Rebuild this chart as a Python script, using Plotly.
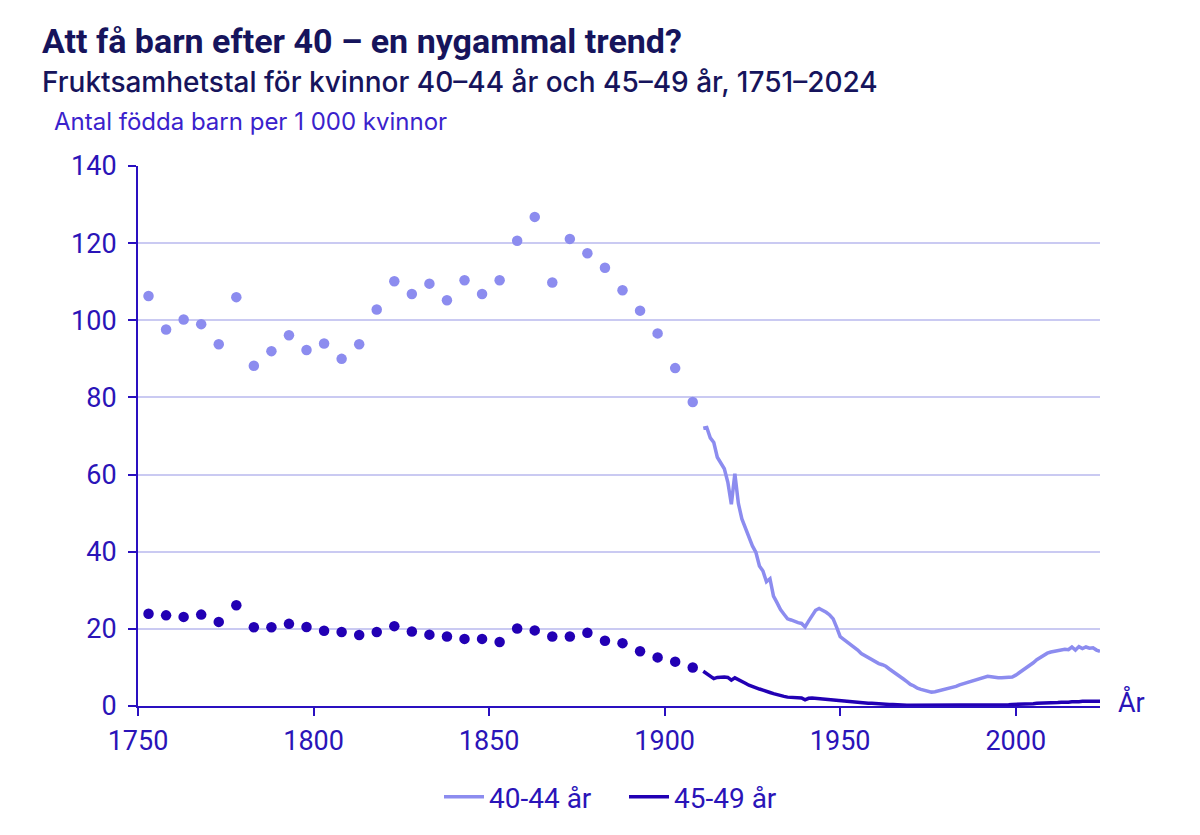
import plotly.graph_objects as go

# 5-year period data (midpoints), 1751-1910
period_years = [1753, 1758, 1763, 1768, 1773, 1778, 1783, 1788, 1793, 1798,
                1803, 1808, 1813, 1818, 1823, 1828, 1833, 1838, 1843, 1848,
                1853, 1858, 1863, 1868, 1873, 1878, 1883, 1888, 1893, 1898,
                1903, 1908]
period_40_44 = [106.3, 97.6, 100.2, 99.0, 93.8, 106.0, 88.2, 92.0, 96.1, 92.3,
                94.0, 90.0, 93.8, 102.8, 110.1, 106.8, 109.5, 105.2, 110.4, 106.8,
                110.4, 120.6, 126.8, 109.8, 121.1, 117.4, 113.6, 107.8, 102.5, 96.6,
                87.6, 78.8]
period_45_49 = [23.9, 23.5, 23.1, 23.7, 21.8, 26.1, 20.4, 20.4, 21.3, 20.5,
                19.5, 19.2, 18.4, 19.2, 20.7, 19.3, 18.5, 18.0, 17.4, 17.4,
                16.6, 20.1, 19.6, 18.0, 18.0, 19.0, 16.9, 16.3, 14.2, 12.6,
                11.5, 10.0]

# Annual data 1911-2024
annual_years = list(range(1911, 2025))
annual_40_44 = [72.0, 72.2, 69.5, 68.3, 64.5, 62.8, 61.5, 58.0, 52.3, 60.2,
                52.5, 48.5, 46.0, 43.5, 41.5, 39.8, 36.3, 35.0, 32.2, 33.0,
                28.5, 26.8, 25.0, 23.8, 22.6, 22.3, 21.9, 21.6, 21.4, 20.5,
                22.0, 23.6, 24.8, 25.3, 24.9, 24.3, 23.6, 22.6, 20.4, 18.0,
                17.3, 16.6, 16.0, 15.1, 14.5, 13.6, 13.1, 12.5, 12.0, 11.4,
                11.0, 10.7, 10.3, 9.6, 9.0, 8.4, 7.6, 7.0, 6.3, 5.6,
                5.2, 4.6, 4.3, 4.0, 3.7, 3.6, 3.7, 3.9, 4.3, 4.4,
                4.7, 4.9, 5.1, 5.5, 5.8, 6.0, 6.3, 6.5, 6.8, 7.2,
                7.4, 7.7, 7.6, 7.4, 7.3, 7.3, 7.4, 7.5, 7.5, 8.0,
                8.6, 9.2, 9.9, 10.6, 11.2, 12.0, 12.6, 13.2, 13.7, 14.0,
                14.2, 14.3, 14.4, 14.7, 14.6, 15.3, 14.5, 15.4, 14.9, 15.3,
                15.0, 15.1, 14.5, 14.2]
annual_45_49 = [9.0, 8.4, 7.8, 7.1, 7.4, 7.5, 7.5, 7.4, 6.7, 7.3,
                6.9, 6.4, 5.9, 5.4, 5.0, 4.6, 4.4, 4.1, 3.9, 3.5,
                3.2, 2.9, 2.7, 2.5, 2.3, 2.2, 2.2, 2.1, 2.1, 1.6,
                2.0, 2.1, 2.0, 2.0, 2.0, 1.9, 1.8, 1.7, 1.6, 1.5,
                1.4, 1.3, 1.2, 1.1, 1.0, 0.9, 0.8, 0.7, 0.7, 0.6,
                0.5, 0.5, 0.5, 0.4, 0.4, 0.3, 0.3, 0.3, 0.2, 0.2,
                0.2, 0.2, 0.2, 0.2, 0.1, 0.1, 0.1, 0.2, 0.2, 0.2,
                0.2, 0.2, 0.2, 0.2, 0.2, 0.2, 0.2, 0.2, 0.2, 0.3,
                0.3, 0.3, 0.3, 0.3, 0.3, 0.3, 0.3, 0.3, 0.4, 0.4,
                0.4, 0.5, 0.5, 0.6, 0.6, 0.7, 0.7, 0.8, 0.8, 0.8,
                0.9, 0.9, 1.0, 0.9, 1.0, 1.1, 1.0, 1.1, 1.2, 1.1,
                1.2, 1.2, 1.1, 1.2]

x_ticks = [1750, 1800, 1850, 1900, 1950, 2000]
y_ticks = [0, 20, 40, 60, 80, 100, 120, 140]

LIGHT = "#8C8CEF"
DARK = "#2200B4"
AXIS = "#2A10C0"
TEXT = "#2A14B8"
GRID = "#CACAF2"
NAVY = "#16145C"

fig = go.Figure()
fig.add_trace(go.Scatter(x=period_years, y=period_40_44, mode="markers",
                         marker=dict(color=LIGHT, size=10.5), showlegend=False,
                         hoverinfo="x+y"))
fig.add_trace(go.Scatter(x=period_years, y=period_45_49, mode="markers",
                         marker=dict(color=DARK, size=10.5), showlegend=False,
                         hoverinfo="x+y"))
fig.add_trace(go.Scatter(x=annual_years, y=annual_40_44, mode="lines",
                         line=dict(color=LIGHT, width=3.5), name="40-44 år"))
fig.add_trace(go.Scatter(x=annual_years, y=annual_45_49, mode="lines",
                         line=dict(color=DARK, width=3.5), name="45-49 år"))

def px(x):
    return (x - 138) / 962

def py(y):
    return (706 - y) / 540

fig.update_layout(
    width=1200, height=835,
    margin=dict(l=130, r=108, t=158, b=137),
    paper_bgcolor="white", plot_bgcolor="white",
    font=dict(family="Roboto", color=TEXT),
    legend=dict(orientation="h", x=px(439), xanchor="left", y=py(797),
                yanchor="middle", font=dict(family="Roboto", size=28, color=TEXT),
                itemwidth=40, entrywidth=130, entrywidthmode="pixels",
                traceorder="normal"),
    annotations=[
        dict(text="<b>Att få barn efter 40 – en nygammal trend?</b>",
             xref="paper", yref="paper", x=px(40), y=py(41),
             xanchor="left", yanchor="middle", showarrow=False,
             font=dict(family="Roboto", size=34, color=NAVY)),
        dict(text="Fruktsamhetstal för kvinnor 40–44 år och 45–49 år, 1751–2024",
             xref="paper", yref="paper", x=px(40), y=py(82),
             xanchor="left", yanchor="middle", showarrow=False,
             font=dict(family="Inter", size=28, color=NAVY, weight=500)),
        dict(text="Antal födda barn per 1 000 kvinnor",
             xref="paper", yref="paper", x=px(52), y=py(121),
             xanchor="left", yanchor="middle", showarrow=False,
             font=dict(family="Inter", size=24, color="#3A22CC")),
        dict(text="År", xref="paper", yref="paper", x=px(1116),
             y=py(702), xanchor="left", yanchor="middle", showarrow=False,
             font=dict(family="Roboto", size=27, color=TEXT)),
    ],
)
fig.update_xaxes(range=[1750, 2024], tickvals=x_ticks, showgrid=False,
                 showline=True, linecolor=AXIS, linewidth=2,
                 ticks="outside", ticklen=8, tickcolor=AXIS, tickwidth=2,
                 tickfont=dict(size=27, color=TEXT), zeroline=False,
                 ticklabelstandoff=2)
fig.update_yaxes(range=[0, 140], tickvals=y_ticks, showgrid=True, gridcolor=GRID,
                 gridwidth=2, showline=True, linecolor=AXIS, linewidth=2,
                 ticks="outside", ticklen=8, tickcolor=AXIS, tickwidth=2,
                 tickfont=dict(size=27, color=TEXT), zeroline=False,
                 ticklabelstandoff=6)

fig.write_html("out.html")
